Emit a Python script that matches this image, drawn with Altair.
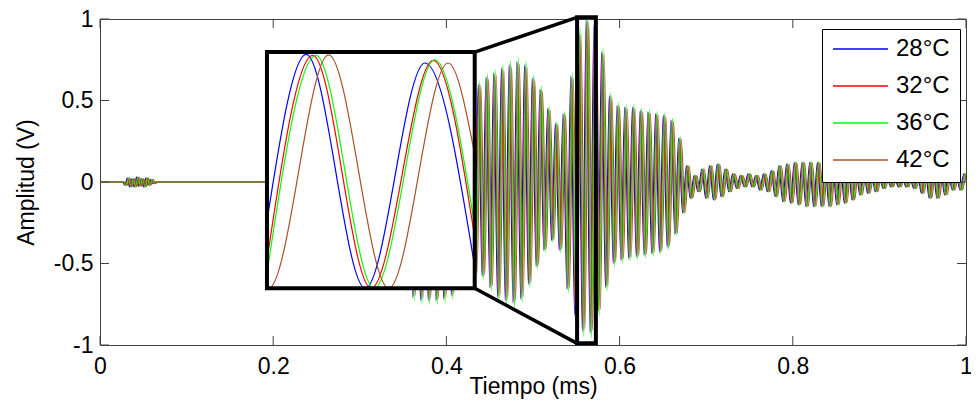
import altair as alt
import pandas as pd

FONT = "Liberation Sans"

SERIES = ["28°C", "32°C", "36°C", "42°C"]
COLORS = ["#0000FF", "#FF0000", "#00FF00", "#A5522A"]
SHIFT_MS = [0.0, 0.0010, 0.0017, 0.0030]
GAIN = [1.00, 0.99, 1.03, 0.98]

XTICKS = [0, 0.2, 0.4, 0.6, 0.8, 1]
YTICKS = [-1, -0.5, 0, 0.5, 1]

# early small echo (ms, V)
NOISE_T0 = 0.026
NOISE_DT = 0.0027
NOISE_A = [0.0, -0.02, 0.025, -0.03, 0.02, -0.03, 0.03, -0.025, 0.02, -0.03,
           0.025, -0.02, 0.015, -0.01, 0.0]

# main burst: one peak and one trough per cycle
BURST_T0 = 0.330
PERIOD = 0.0089
PEAKS = [0.15, 0.40, 0.60, 0.70, 0.72, 0.73, 0.73, 0.72, 0.70, 0.66,
         0.60, 0.57, 0.60, 0.645, 0.67, 0.70, 0.72, 0.74, 0.72, 0.64,
         0.57, 0.45, 0.36, 0.42, 0.65, 0.92, 1.00, 0.96, 0.80, 0.53,
         0.47, 0.46, 0.46, 0.44, 0.43, 0.42, 0.41, 0.38, 0.27, 0.10,
         0.04, 0.08, 0.10, 0.11, 0.08, 0.05, 0.04, 0.05, 0.04, 0.05,
         0.07, 0.10, 0.11, 0.12, 0.12, 0.12, 0.12, 0.11, 0.10, 0.10,
         0.09, 0.08, 0.07, 0.06, 0.05, 0.04, 0.03, 0.03, 0.03, 0.04,
         0.07, 0.08, 0.07, 0.05, 0.05, 0.05]
TROUGHS = [-0.25, -0.50, -0.65, -0.71, -0.73, -0.73, -0.73, -0.72, -0.70, -0.64,
           -0.60, -0.57, -0.58, -0.65, -0.71, -0.73, -0.745, -0.72, -0.63, -0.52,
           -0.42, -0.36, -0.42, -0.66, -0.82, -0.92, -0.93, -0.80, -0.65, -0.50,
           -0.48, -0.47, -0.46, -0.45, -0.44, -0.43, -0.40, -0.32, -0.19, -0.10,
           -0.06, -0.10, -0.11, -0.09, -0.06, -0.04, -0.03, -0.03, -0.05, -0.06,
           -0.09, -0.12, -0.13, -0.14, -0.15, -0.15, -0.15, -0.15, -0.14, -0.13,
           -0.11, -0.08, -0.07, -0.06, -0.04, -0.03, -0.03, -0.03, -0.04, -0.07,
           -0.10, -0.10, -0.08, -0.05, -0.05, -0.04]

# inset (zoomed view), as drawn in the figure's coordinates
INSET_T = {
    "28°C": [0.1928, 0.2381, 0.3063, 0.3752, 0.4327],
    "32°C": [0.1928, 0.2457, 0.3131, 0.3848, 0.4327],
    "36°C": [0.1928, 0.2495, 0.3166, 0.3866, 0.4327],
    "42°C": [0.1928, 0.1947, 0.2640, 0.3334, 0.4019, 0.4327],
}
INSET_A = {
    "28°C": [-0.24, 0.783, -0.652, 0.730, -0.52],
    "32°C": [-0.48, 0.777, -0.652, 0.746, -0.34],
    "36°C": [-0.56, 0.777, -0.652, 0.750, -0.27],
    "42°C": [-0.645, -0.652, 0.780, -0.652, 0.730, 0.17],
}
INSET_BOX = [0.1928, 0.4327, -0.652, 0.797]
ZOOM_BOX = [0.5509, 0.5726, -0.99, 1.01]

# ---- build tables ----
rows = []
for s, sh, g in zip(SERIES, SHIFT_MS, GAIN):
    pts = [(0.0, 0.0), (NOISE_T0 - 0.002 + sh, 0.0)]
    for i, a in enumerate(NOISE_A):
        pts.append((NOISE_T0 + i * NOISE_DT + sh, a * g))
    pts.append((NOISE_T0 + len(NOISE_A) * NOISE_DT + sh, 0.0))
    pts.append((BURST_T0 - 0.005 + sh, 0.0))
    for k, (p, tr) in enumerate(zip(PEAKS, TROUGHS)):
        pts.append((BURST_T0 + k * PERIOD + sh, p * g))
        pts.append((BURST_T0 + (k + 0.5) * PERIOD + sh, tr * g))
    for t, a in pts:
        rows.append({"t": t, "a": a, "series": s})
main_df = pd.DataFrame(rows)

inset_rows = []
for s in SERIES:
    for t, a in zip(INSET_T[s], INSET_A[s]):
        inset_rows.append({"t": t, "a": a, "series": s})
inset_df = pd.DataFrame(inset_rows)

box_df = pd.DataFrame([
    {"t": INSET_BOX[0], "t2": INSET_BOX[1], "a": INSET_BOX[2], "a2": INSET_BOX[3]}
])
zoom_df = pd.DataFrame([
    {"t": ZOOM_BOX[0], "t2": ZOOM_BOX[1], "a": ZOOM_BOX[2], "a2": ZOOM_BOX[3]}
])
conn_df = pd.DataFrame([
    {"t": INSET_BOX[1], "a": INSET_BOX[3], "t2": ZOOM_BOX[0], "a2": ZOOM_BOX[3]},
    {"t": INSET_BOX[1], "a": INSET_BOX[2], "t2": ZOOM_BOX[0], "a2": ZOOM_BOX[2]},
])

W, H = 866, 326
TICK_PX = 9
tx = TICK_PX / W * (1 - 0)
ty = TICK_PX / H * 2
tick_rows = []
for v in XTICKS:
    tick_rows.append({"t": v, "t2": v, "a": -1, "a2": -1 + ty})
    tick_rows.append({"t": v, "t2": v, "a": 1, "a2": 1 - ty})
for v in YTICKS:
    tick_rows.append({"t": 0, "t2": tx, "a": v, "a2": v})
    tick_rows.append({"t": 1, "t2": 1 - tx, "a": v, "a2": v})
tick_df = pd.DataFrame(tick_rows)

xaxis = alt.Axis(values=XTICKS, labelExpr="'' + datum.value", ticks=False,
                 domain=False, grid=False, labelFontSize=23, labelFont=FONT,
                 labelColor="black", labelPadding=10, labelFlush=False,
                 labelOverlap=False, titleFontSize=23, titleFont=FONT,
                 titleFontWeight="normal", titleColor="black",
                 titleBaseline="alphabetic", titleY=48)
yaxis = alt.Axis(values=YTICKS, labelExpr="'' + datum.value", ticks=False,
                 domain=False, grid=False, labelFontSize=23, labelFont=FONT,
                 labelColor="black", labelPadding=7, labelFlush=False,
                 labelOverlap=False, titleFontSize=23, titleFont=FONT,
                 titleFontWeight="normal", titleColor="black",
                 titleAngle=270, titleAlign="center", titleBaseline="middle",
                 titleX=-74, titleY=H / 2)

X = alt.X("t:Q", scale=alt.Scale(domain=[0, 1], nice=False, zero=False),
          axis=xaxis, title="Tiempo (ms)")
Y = alt.Y("a:Q", scale=alt.Scale(domain=[-1, 1], nice=False, zero=False),
          axis=yaxis, title="Amplitud (V)")

legend = alt.Legend(title=None, orient="none", legendX=722, legendY=10,
                    symbolType="stroke", symbolSize=3025, symbolStrokeWidth=1.3,
                    clipHeight=20, rowPadding=13, labelFontSize=24,
                    labelFont=FONT, labelColor="black", labelOffset=7,
                    padding=10, strokeColor="black", fillColor="white",
                    labelLimit=300)
C = alt.Color("series:N", scale=alt.Scale(domain=SERIES, range=COLORS),
              legend=legend)

main = alt.Chart(main_df).mark_line(strokeWidth=1.1, interpolate="monotone",
                                    clip=True).encode(x=X, y=Y, color=C)
inset_fill = alt.Chart(box_df).mark_rect(fill="white").encode(
    x=X, x2="t2", y=Y, y2="a2")
inset_lines = alt.Chart(inset_df).mark_line(
    strokeWidth=1.2, interpolate="monotone").encode(x=X, y=Y, color=C)
inset_frame = alt.Chart(box_df).mark_rect(
    fill=None, fillOpacity=0, stroke="black", strokeWidth=4).encode(
    x=X, x2="t2", y=Y, y2="a2")
zoom_frame = alt.Chart(zoom_df).mark_rect(
    fill=None, fillOpacity=0, stroke="black", strokeWidth=4).encode(
    x=X, x2="t2", y=Y, y2="a2")
connectors = alt.Chart(conn_df).mark_rule(
    color="black", strokeWidth=3.5).encode(x=X, x2="t2", y=Y, y2="a2")
ticks = alt.Chart(tick_df).mark_rule(color="#404040", strokeWidth=1).encode(
    x=X, x2="t2", y=Y, y2="a2")

chart = alt.layer(main, inset_fill, inset_lines, inset_frame, zoom_frame,
                  connectors, ticks).properties(
    width=W, height=H,
    padding={"left": 92, "top": 11, "right": 5, "bottom": 55},
    autosize=alt.AutoSizeParams(type="none"),
    background="white",
).configure_view(stroke="#404040", strokeWidth=1)

chart.save("out.html", embed_options={"renderer": "svg", "actions": False})
